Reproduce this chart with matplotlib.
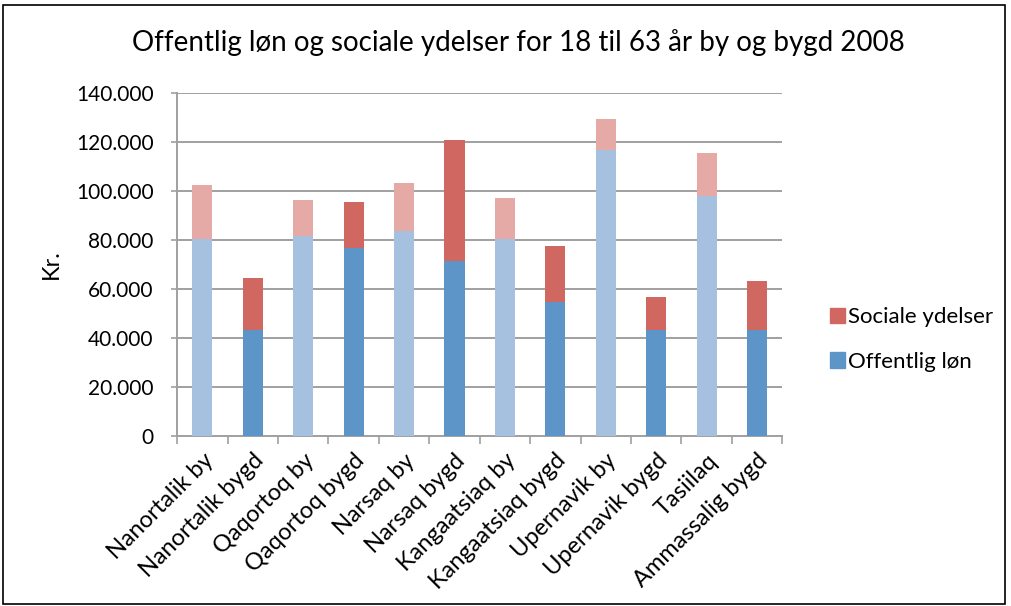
import matplotlib
matplotlib.use("Agg")
import matplotlib.pyplot as plt
import numpy as np
from matplotlib.patches import Patch, Rectangle
from matplotlib.ticker import FuncFormatter, MultipleLocator

plt.rcParams['font.family'] = ['Lato', 'DejaVu Sans']

categories = ['Nanortalik by', 'Nanortalik bygd', 'Qaqortoq by', 'Qaqortoq bygd',
              'Narsaq by', 'Narsaq bygd', 'Kangaatsiaq by', 'Kangaatsiaq bygd',
              'Upernavik by', 'Upernavik bygd', 'Tasiilaq', 'Ammassalig bygd']
offentlig_lon = [80500, 43400, 81500, 76900, 83800, 71600,
                 80500, 54900, 116600, 43400, 97900, 43400]
totals = [102500, 64700, 96400, 95600, 103300, 120800,
          97200, 77700, 129400, 56900, 115500, 63100]
sociale_ydelser = [t - o for t, o in zip(totals, offentlig_lon)]
is_town = [True, False, True, False, True, False, True, False, True, False, True, False]

blue_light, blue_dark = '#A6C0DF', '#5E95C8'
red_light, red_dark = '#E5A9A6', '#D06761'

fig = plt.figure(figsize=(10.12, 6.06), dpi=100)
ax = fig.add_axes([0.175, 0.2805, 0.598, 0.566])

x = np.arange(len(categories))
blues = [blue_light if t else blue_dark for t in is_town]
reds = [red_light if t else red_dark for t in is_town]
ax.bar(x, offentlig_lon, width=0.4, color=blues, zorder=3)
ax.bar(x, sociale_ydelser, width=0.4, bottom=offentlig_lon, color=reds, zorder=3)

ax.set_xlim(-0.5, len(categories) - 0.5)
ax.set_ylim(0, 140000)
ax.yaxis.set_major_locator(MultipleLocator(20000))
ax.yaxis.set_major_formatter(FuncFormatter(lambda v, p: f"{int(v):,}".replace(',', '.')))
ax.grid(axis='y', color='#A0A0A0', linewidth=1.4, zorder=0)

ax.set_xticks(x)
ax.set_xticklabels(categories, rotation=45, ha='right', rotation_mode='anchor', fontsize=17)
ax.tick_params(axis='x', length=0, pad=10)
ax.set_xticks(np.arange(-0.5, len(categories)), minor=True)
ax.tick_params(axis='x', which='minor', length=6, color='#A0A0A0', width=1.2)
ax.tick_params(axis='y', labelsize=15, length=4, color='#A0A0A0', width=1.2, pad=13)

for side in ['top', 'right']:
    ax.spines[side].set_visible(False)
for side in ['left', 'bottom']:
    ax.spines[side].set_color('#A0A0A0')
    ax.spines[side].set_linewidth(1.4)

ax.set_ylabel('Kr.', fontsize=17, labelpad=10)
fig.text(0.512, 0.93, 'Offentlig løn og sociale ydelser for 18 til 63 år by og bygd 2008',
         ha='center', va='center', fontsize=20)

handles = [Patch(color=red_dark, label='Sociale ydelser'),
           Patch(color=blue_dark, label='Offentlig løn')]
fig.legend(handles=handles, loc='center left', bbox_to_anchor=(0.8, 0.44),
           frameon=False, fontsize=16, handlelength=0.7, handleheight=0.7,
           handletextpad=0.15, labelspacing=1.1)

fig.patches.append(Rectangle((0.003, 0.004), 0.99, 0.987, transform=fig.transFigure,
                             fill=False, edgecolor='black', linewidth=1.2))

fig.savefig('out.png', dpi=100)
